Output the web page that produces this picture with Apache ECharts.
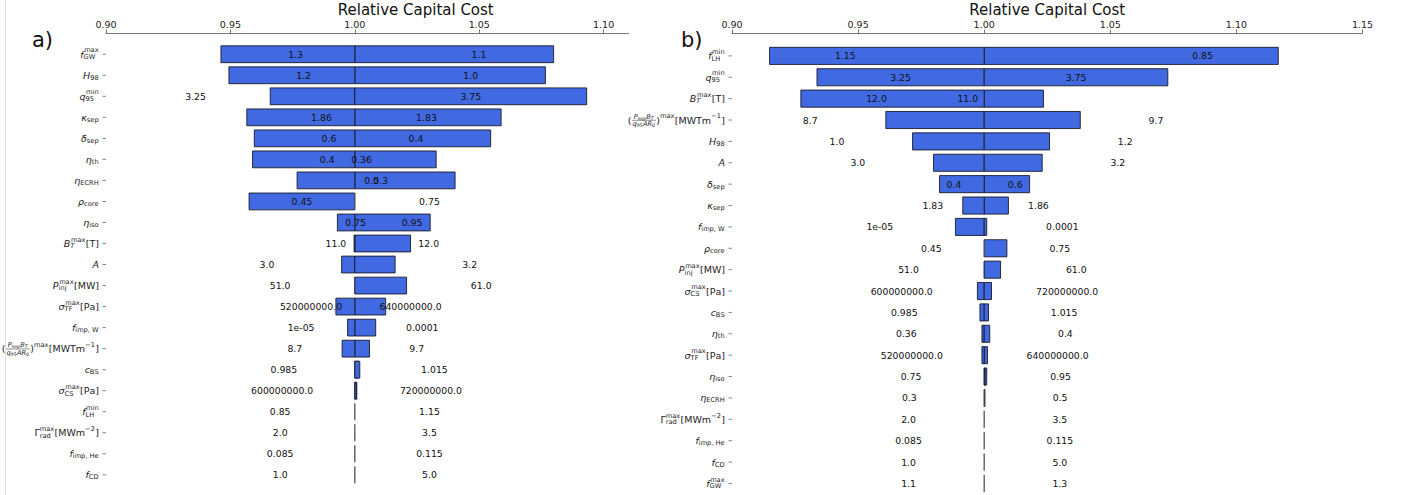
<!DOCTYPE html>
<html>
<head>
<meta charset="utf-8">
<script src="https://cdn.jsdelivr.net/npm/echarts@6/dist/echarts.min.js"></script>
<style>
html, body { margin: 0; padding: 0; background: #fff; }
#chart { width: 1402px; height: 495px; }
</style>
</head>
<body>
<div id="chart"></div>
<script>
// ---------------- data ----------------
// x-axis ticks (relative capital cost)
const xTicksA = [0.90, 0.95, 1.00, 1.05, 1.10];
const xTicksB = [0.90, 0.95, 1.00, 1.05, 1.10, 1.15];

// panel a) parameters, sorted by sensitivity
const labelsA = [
  'f_{GW}^{max}', 'H_{98}', 'q_{95}^{min}', 'κ_{sep}', 'δ_{sep}', 'η_{th}', 'η_{ECRH}',
  'ρ_{core}', 'η_{iso}', 'B_{T}^{max}[T]', 'A', 'P_{inj}^{max}[MW]', 'σ_{TF}^{max}[Pa]',
  'f_{imp, W}', '(\\frac{P_{sep}B_{T}}{q_{95}AR_{0}})^{max}[MWTm^{−1}]', 'c_{BS}',
  'σ_{CS}^{max}[Pa]', 'f_{LH}^{min}', 'Γ_{rad}^{max}[MWm^{−2}]', 'f_{imp, He}', 'f_{CD}'
];
const lowA  = [1.1, 1.0, 3.25, 1.83, 0.4, 0.36, 0.3, 0.45, 0.75, 11.0, 3.0, 51.0, 520000000.0, 1e-05, 8.7, 0.985, 600000000.0, 0.85, 2.0, 0.085, 1.0];
const highA = [1.3, 1.2, 3.75, 1.86, 0.6, 0.4, 0.5, 0.75, 0.95, 12.0, 3.2, 61.0, 640000000.0, 0.0001, 9.7, 1.015, 720000000.0, 1.15, 3.5, 0.115, 5.0];
// relative cost at the low / high parameter value
const costLowA  = [1.0799, 1.0766, 0.9660, 1.0588, 1.0546, 1.0327, 1.0403, 0.9575, 1.0303, 1.0224, 0.9947, 1.0000, 1.0124, 1.0084, 1.0059, 1.0015, 1.0008, 1.0, 1.0, 1.0, 1.0];
const costHighA = [0.9462, 0.9494, 1.0932, 0.9566, 0.9596, 0.9589, 0.9768, 1.0000, 0.9930, 0.9997, 1.0162, 1.0208, 0.9924, 0.9971, 0.9949, 1.0020, 1.0006, 1.0, 1.0, 1.0, 1.0];

// panel b) parameters, sorted by sensitivity
const labelsB = [
  'f_{LH}^{min}', 'q_{95}^{min}', 'B_{T}^{max}[T]', '(\\frac{P_{sep}B_{T}}{q_{95}AR_{0}})^{max}[MWTm^{−1}]',
  'H_{98}', 'A', 'δ_{sep}', 'κ_{sep}', 'f_{imp, W}', 'ρ_{core}', 'P_{inj}^{max}[MW]',
  'σ_{CS}^{max}[Pa]', 'c_{BS}', 'η_{th}', 'σ_{TF}^{max}[Pa]', 'η_{iso}', 'η_{ECRH}',
  'Γ_{rad}^{max}[MWm^{−2}]', 'f_{imp, He}', 'f_{CD}', 'f_{GW}^{max}'
];
const lowB  = [0.85, 3.25, 11.0, 8.7, 1.0, 3.0, 0.4, 1.83, 1e-05, 0.45, 51.0, 600000000.0, 0.985, 0.36, 520000000.0, 0.75, 0.3, 2.0, 0.085, 1.0, 1.1];
const highB = [1.15, 3.75, 12.0, 9.7, 1.2, 3.2, 0.6, 1.86, 0.0001, 0.75, 61.0, 720000000.0, 1.015, 0.4, 640000000.0, 0.95, 0.5, 3.5, 0.115, 5.0, 1.3];
const costLowB  = [1.1166, 0.9337, 1.0235, 0.9610, 0.9716, 0.9799, 1.0180, 1.0096, 0.9886, 1.0090, 1.0000, 0.9973, 0.9983, 0.9991, 1.0013, 1.0010, 1.0003, 1.0, 1.0, 1.0, 1.0];
const costHighB = [0.9149, 1.0728, 0.9273, 1.0381, 1.0259, 1.0230, 0.9823, 0.9915, 1.0010, 1.0000, 1.0065, 1.0029, 1.0017, 1.0022, 0.9991, 1.0003, 1.0001, 1.0, 1.0, 1.0, 1.0];

// ---------------- styling ----------------
const FONT = '"DejaVu Sans", sans-serif';
const BAR = '#4169E1';
const EDGE = 'rgba(20,20,30,0.85)';
const BASE = 1.0;
const LABEL_SIZE = 9.5;
const VALUE_SIZE = 9.3;

// Python-style number formatting (1.0, 1e-05, 520000000.0)
function pyStr(v) {
  if (v !== 0 && Math.abs(v) < 1e-4) {
    const parts = v.toExponential().split('e');
    const e = parseInt(parts[1], 10);
    return parts[0] + 'e' + (e < 0 ? '-' : '+') + String(Math.abs(e)).padStart(2, '0');
  }
  if (Number.isInteger(v)) return v.toFixed(1);
  return String(v);
}

// label position: centred in wide bars, otherwise just beyond the bar end
function lowLabelX(c) { const m = (c + BASE) / 2; return m < BASE - 0.02 ? m : c - 0.03; }
function highLabelX(c) { const m = (c + BASE) / 2; return m > BASE + 0.02 ? m : c + 0.03; }

// ---------------- small math-text layout ----------------
const mctx = document.createElement('canvas').getContext('2d');
function textWidth(t, size, italic) {
  mctx.font = (italic ? 'italic ' : '') + size + 'px ' + FONT;
  return mctx.measureText(t).width;
}

function parseTex(src) {
  let i = 0;
  function readGroup(script) {
    if (src[i] === '{') { i++; const nodes = readSeq('}', script); i++; return nodes; }
    const ch = src[i++];
    return [{ text: ch, italic: !script && /[A-Za-zα-ω]/.test(ch) }];
  }
  function readSeq(stop, script) {
    const nodes = [];
    let upright = false;
    while (i < src.length && src[i] !== stop) {
      if (src.startsWith('\\frac', i)) {
        i += 5;
        const num = readGroup(false);
        const den = readGroup(false);
        nodes.push({ num, den });
        continue;
      }
      const ch = src[i];
      if (ch === '_' || ch === '^') {
        i++;
        const g = readGroup(true);
        if (g.length === 1 && /[A-Za-z]/.test(g[0].text)) g[0].italic = true;
        nodes[nodes.length - 1][ch === '_' ? 'sub' : 'sup'] = g;
        continue;
      }
      if (ch === '[') upright = true;
      nodes.push({ text: ch, italic: !script && !upright && /[A-Za-zα-ω]/.test(ch) });
      if (ch === ']') upright = false;
      i++;
    }
    return nodes;
  }
  return readSeq(undefined, false);
}

function layout(nodes, size, x, y, out) {
  let cx = x;
  for (const n of nodes) {
    if (n.num) {
      const fs = size * 0.7;
      const wn = layout(n.num, fs, 0, 0, null);
      const wd = layout(n.den, fs, 0, 0, null);
      const w = Math.max(wn, wd) + size * 0.2;
      if (out) {
        layout(n.num, fs, cx + (w - wn) / 2, y - size * 0.36, out);
        layout(n.den, fs, cx + (w - wd) / 2, y + size * 0.42, out);
        out.push({ rule: true, x1: cx + size * 0.05, x2: cx + w - size * 0.05, y: y + size * 0.03 });
      }
      cx += w;
      continue;
    }
    const w = textWidth(n.text, size, n.italic);
    if (out) out.push({ text: n.text, x: cx, y: y, size: size, italic: n.italic });
    cx += w;
    if (n.sub || n.sup) {
      const ss = size * 0.7;
      const both = n.sub && n.sup;
      const kern = n.italic ? size * 0.06 : 0;
      let wsub = 0, wsup = 0;
      if (n.sup) wsup = layout(n.sup, ss, cx + kern, y - size * (both ? 0.40 : 0.38), out) + kern;
      if (n.sub) wsub = layout(n.sub, ss, cx, y + size * (both ? 0.30 : 0.26), out);
      cx += Math.max(wsub, wsup) + size * 0.04;
    }
  }
  return cx - x;
}

function buildLayouts(labels) {
  return labels.map(s => {
    const nodes = parseTex(s);
    const runs = [];
    const width = layout(nodes, LABEL_SIZE, 0, 0, runs);
    return { width, runs };
  });
}

// ---------------- tornado panels ----------------
function makePanel(labels, low, high, costLow, costHigh, xMin) {
  const layouts = buildLayouts(labels);
  const data = labels.map((_, i) => [i, costLow[i], costHigh[i]]);
  function renderItem(params, api) {
    const i = params.dataIndex;
    const cLow = api.value(1), cHigh = api.value(2);
    const half = 0.4;
    const children = [];
    [[cLow, BASE], [BASE, cHigh]].forEach(([a, b]) => {
      const p0 = api.coord([Math.min(a, b), i - half]);
      const p1 = api.coord([Math.max(a, b), i + half]);
      const w = p1[0] - p0[0];
      const top = Math.min(p0[1], p1[1]);
      const h = Math.abs(p1[1] - p0[1]);
      if (w < 0.6) {
        // bar with (almost) no effect: a thin line at the base value
        children.push({
          type: 'line',
          shape: { x1: p0[0], y1: top, x2: p0[0], y2: top + h },
          style: { stroke: '#555', lineWidth: 0.9 }
        });
      } else {
        children.push({
          type: 'rect',
          shape: { x: p0[0], y: top, width: w, height: h },
          style: { fill: BAR, stroke: EDGE, lineWidth: 1 }
        });
      }
    });
    const pl = api.coord([lowLabelX(cLow), i]);
    const ph = api.coord([highLabelX(cHigh), i]);
    [[pl, pyStr(low[i])], [ph, pyStr(high[i])]].forEach(([p, t]) => {
      children.push({
        type: 'text',
        style: { text: t, x: p[0], y: p[1], fontSize: VALUE_SIZE, fontFamily: FONT, fill: '#111', align: 'center', verticalAlign: 'middle' }
      });
    });
    // category tick and label
    const ap = api.coord([xMin, i]);
    children.push({
      type: 'line',
      shape: { x1: ap[0] - 3.5, y1: ap[1], x2: ap[0], y2: ap[1] },
      style: { stroke: '#666', lineWidth: 0.8 }
    });
    const lay = layouts[i];
    const x0 = ap[0] - 7 - lay.width;
    lay.runs.forEach(r => {
      if (r.rule) {
        children.push({
          type: 'line',
          shape: { x1: x0 + r.x1, y1: ap[1] + r.y, x2: x0 + r.x2, y2: ap[1] + r.y },
          style: { stroke: '#222', lineWidth: 0.5 }
        });
      } else {
        children.push({
          type: 'text',
          style: {
            text: r.text, x: x0 + r.x, y: ap[1] + r.y, fontSize: r.size, fontFamily: FONT,
            fontStyle: r.italic ? 'italic' : 'normal', fill: '#222', align: 'left', verticalAlign: 'middle'
          }
        });
      }
    });
    return { type: 'group', children };
  }
  return { data, renderItem };
}

const panelA = makePanel(labelsA, lowA, highA, costLowA, costHighA, 0.90);
const panelB = makePanel(labelsB, lowB, highB, costLowB, costHighB, 0.90);

function xAxis(gridIndex, max, ticks, namePad) {
  return {
    gridIndex, type: 'value', position: 'top', min: 0.90, max: max,
    axisLine: { show: true, onZero: false, lineStyle: { color: '#777', width: 1 } },
    axisTick: { show: true, length: 3.5, customValues: ticks, lineStyle: { color: '#777' } },
    axisLabel: { customValues: ticks, margin: 3.5, fontSize: 9.5, fontFamily: FONT, color: '#222', formatter: v => v.toFixed(2) },
    splitLine: { show: false },
    name: 'Relative Capital Cost', nameLocation: 'middle', nameGap: 16, nameMoveOverlap: false,
    nameTextStyle: { fontSize: 15, fontFamily: FONT, color: '#111', padding: namePad }
  };
}

const chart = echarts.init(document.getElementById('chart'), null, { renderer: 'svg' });
chart.setOption({
  animation: false,
  backgroundColor: '#fff',
  grid: [
    { left: 106, top: 33, width: 522.5, bottom: 0, outerBoundsMode: 'none', containLabel: false },
    { left: 732, top: 33, width: 630.5, bottom: 0, outerBoundsMode: 'none', containLabel: false }
  ],
  xAxis: [
    xAxis(0, 1.11, xTicksA, [0, 0, 0, 97]),
    xAxis(1, 1.15, xTicksB, 0)
  ],
  yAxis: [
    { gridIndex: 0, type: 'value', inverse: true, min: -1.01, max: 20.96, show: false },
    { gridIndex: 1, type: 'value', inverse: true, min: -1.07, max: 20.54, show: false }
  ],
  graphic: [
    { type: 'line', shape: { x1: 5.5, y1: 0, x2: 5.5, y2: 495 }, style: { stroke: '#e2e2e2', lineWidth: 1 } },
    { type: 'text', x: 32, y: 40, style: { text: 'a)', fontSize: 21, fontFamily: FONT, fill: '#111', verticalAlign: 'middle' } },
    { type: 'text', x: 681, y: 40, style: { text: 'b)', fontSize: 21, fontFamily: FONT, fill: '#111', verticalAlign: 'middle' } }
  ],
  series: [
    { type: 'custom', xAxisIndex: 0, yAxisIndex: 0, clip: false, data: panelA.data, encode: { x: [1, 2], y: 0 }, renderItem: panelA.renderItem },
    { type: 'custom', xAxisIndex: 1, yAxisIndex: 1, clip: false, data: panelB.data, encode: { x: [1, 2], y: 0 }, renderItem: panelB.renderItem }
  ]
});
</script>
</body>
</html>
